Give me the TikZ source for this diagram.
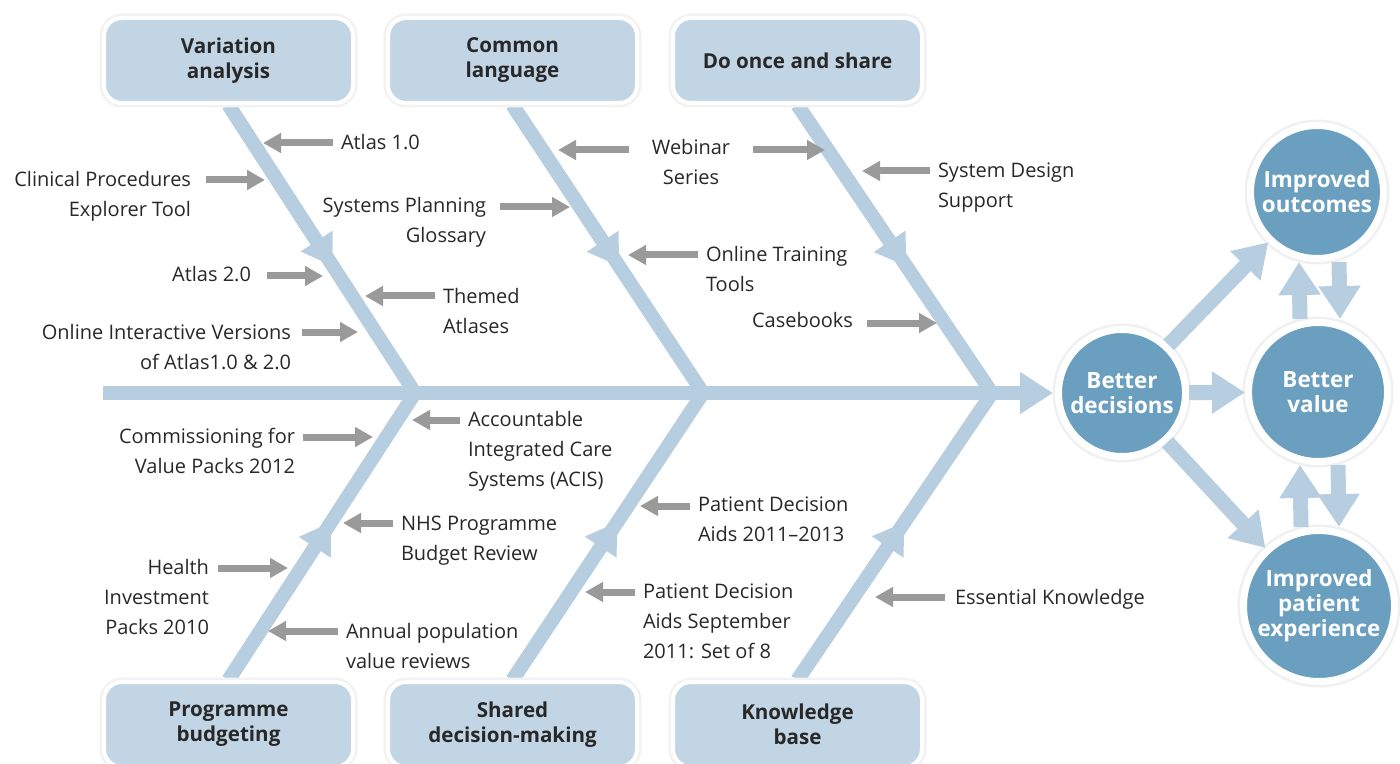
\documentclass[tikz,border=0pt]{standalone}
\usepackage{fontspec}
\setmainfont{Open Sans}
\usepackage{tikz}
\usetikzlibrary{arrows.meta, backgrounds, calc, positioning}
\definecolor{boxblue}{HTML}{C2D5E5}
\definecolor{bonecol}{HTML}{B7CEE0}
\definecolor{circblue}{HTML}{6B9FBF}
\definecolor{ptrgray}{HTML}{9A9A9A}
\definecolor{txtcol}{HTML}{282828}

\begin{document}
\begin{tikzpicture}[x=0.5pt, y=-0.5pt,
        cause/.style={draw=white, line width=2pt, fill=boxblue, rounded corners=9pt, minimum width=124.5pt, minimum height=42.5pt, align=center, text=txtcol, font=\bfseries\fontsize{10.3}{12.5}\selectfont, preaction={draw=black!5, line width=4.5pt}},
        goal/.style={circle, draw=white, line width=3.5pt, fill=circblue, inner sep=0pt, align=center, text=white, font=\bfseries\fontsize{11.2}{12.5}\selectfont, preaction={draw=black!6, line width=6pt}},
        lbl/.style={inner sep=0pt, outer xsep=4pt, align=left, text=txtcol, font=\fontsize{10}{15}\selectfont},
        bone/.style={draw=bonecol, line width=7pt},
        flow/.style={draw=bonecol, line width=7.5pt, -{Triangle[length=16.5pt, width=20pt]}},
        ptr/.style={draw=ptrgray, line width=3.5pt, -{Triangle[length=9pt, width=9.5pt]}}]
        \useasboundingbox (0,0) rectangle (1400,764);
        \node[cause] (va) at (228.5,60.5) {Variation\\analysis};
        \node[cause] (cl) at (512.5,60.5) {Common\\language};
        \node[cause] (dos) at (797.5,60.5) {Do once and share};
        \node[cause] (pb) at (228.5,724.5) {Programme\\budgeting};
        \node[cause] (sdm) at (512.5,724.5) {Shared\\decision-making};
        \node[cause] (kb) at (797.5,724.5) {Knowledge\\base};
        \node[goal, minimum size=63.5pt] (bd) at (1122,393) {Better\\decisions};
        \node[goal, minimum size=66.5pt] (io) at (1317,192) {Improved\\outcomes};
        \node[goal, minimum size=69.5pt] (bv) at (1318,392) {Better\\value};
        \node[goal, minimum size=75.5pt] (pe) at (1319,606) {Improved\\patient\\experience};
        \coordinate (sp) at (103,393);
        \coordinate (j1) at (415,393);
        \coordinate (j2) at (703,393);
        \coordinate (j3) at (992,393);
        \begin{scope}[on background layer]
        \draw[bone, -{Triangle[length=16.5pt, width=20pt]}, shorten >=1pt] (sp) -- (bd);
        \foreach \src/\dst in
        {va/j1,cl/j2,dos/j3} {\draw[bone] (\src.south) -- (\dst);
        \draw[bone, -{Triangle[length=15pt, width=18pt]}] (\src.south) -- ($(\src.south)!0.56!(\dst)$);}
        \foreach \src/\dst in
        {pb/j1,sdm/j2,kb/j3} {\draw[bone] (\src.north) -- (\dst);
        \draw[bone, -{Triangle[length=15pt, width=18pt]}] (\src.north) -- ($(\src.north)!0.55!(\dst)$);}
        \end{scope}
        \foreach \src/\dst in
        {bd/io,bd/bv,bd/pe} \draw[flow] (\src) -- (\dst);
        \draw[flow] ([xshift=-9pt]bv.north) -- ([xshift=-9pt]io.south);
        \draw[flow] ([xshift=11pt]io.south) -- ([xshift=11pt]bv.north);
        \draw[flow] ([xshift=-9pt]pe.north) -- ([xshift=-9pt]bv.south);
        \draw[flow] ([xshift=10pt]bv.south) -- ([xshift=10pt]pe.north);
        \node[lbl, anchor=base west] (atlasA) at (333,150) {Atlas 1.0};
        \node[lbl, anchor=base west] (themed) at (435,333) {Themed\\Atlases};
        \node[lbl, anchor=base west] (training) at (698,292) {Online Training\\Tools};
        \node[lbl, anchor=base west] (sysdes) at (930,208) {System Design\\Support};
        \node[lbl, anchor=base west] (acis) at (460,486) {Accountable\\Integrated Care\\Systems (ACIS)};
        \node[lbl, anchor=base west] (nhs) at (393,560) {NHS Programme\\Budget Review};
        \node[lbl, anchor=base west] (annual) at (338,668) {Annual population\\value reviews};
        \node[lbl, anchor=base west] (pdaA) at (690,541) {Patient Decision\\Aids 2011--2013};
        \node[lbl, anchor=base west] (pdaB) at (635,658) {Patient Decision\\Aids September\\2011: Set of 8};
        \node[lbl, anchor=base west, outer xsep=5pt] (essential) at (945,604) {Essential Knowledge};
        \node[lbl, anchor=base east, align=right, outer xsep=7.5pt] (clinical) at (206,217) {Clinical Procedures\\Explorer Tool};
        \node[lbl, anchor=base east, align=right, outer xsep=7pt] (sysplan) at (500,243) {Systems Planning\\Glossary};
        \node[lbl, anchor=base east, outer xsep=8pt] (atlasB) at (267,282) {Atlas 2.0};
        \node[lbl, anchor=base east, align=right, outer xsep=5.5pt] (online) at (302,369) {Online Interactive Versions\\of Atlas1.0 \& 2.0};
        \node[lbl, anchor=base east, outer xsep=7pt] (casebooks) at (867,328) {Casebooks};
        \node[lbl, anchor=base east, align=right] (commiss) at (303,473) {Commissioning for\\Value Packs 2012};
        \node[lbl, anchor=base east, align=right, outer xsep=4.5pt] (health) at (218,634) {Health\\Investment\\Packs 2010};
        \node[lbl, anchor=base, align=center, outer xsep=11.5pt] (webinar) at (691,185) {Webinar\\Series};
        \coordinate (tAtlasA) at (263,143);
        \coordinate (tThemed) at (365,296);
        \coordinate (tTraining) at (628,255);
        \coordinate (tSysdes) at (862,171);
        \coordinate (tAcis) at (412,420);
        \coordinate (tNhs) at (343,523);
        \coordinate (tAnnual) at (268,631);
        \coordinate (tPdaA) at (640,506);
        \coordinate (tPdaB) at (585,592);
        \coordinate (tEssential) at (875,597);
        \coordinate (tWebL) at (558,150);
        \coordinate (tClinical) at (265,180);
        \coordinate (tSysplan) at (570,207);
        \coordinate (tAtlasB) at (323,276);
        \coordinate (tOnline) at (358,332);
        \coordinate (tCasebooks) at (937,323);
        \coordinate (tCommiss) at (373,437);
        \coordinate (tHealth) at (288,568);
        \coordinate (tWebR) at (825,150);
        \foreach \lbl/\tip in
        {atlasA/tAtlasA,themed/tThemed,training/tTraining,sysdes/tSysdes,acis/tAcis,nhs/tNhs,annual/tAnnual,pdaA/tPdaA,pdaB/tPdaB,essential/tEssential,webinar/tWebL} \draw[ptr] (\lbl.west |- \tip) -- (\tip);
        \foreach \lbl/\tip in
        {clinical/tClinical,sysplan/tSysplan,atlasB/tAtlasB,online/tOnline,casebooks/tCasebooks,commiss/tCommiss,health/tHealth,webinar/tWebR} \draw[ptr] (\lbl.east |- \tip) -- (\tip);
        \end{tikzpicture}
\end{document}
